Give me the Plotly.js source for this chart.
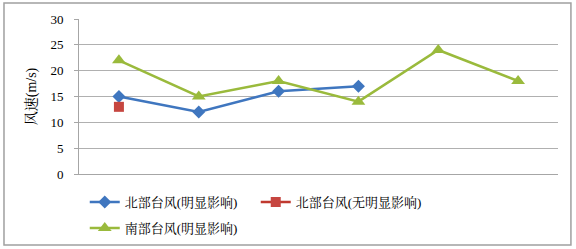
<!DOCTYPE html>
<html>
<head>
<meta charset="utf-8">
<script src="https://cdn.plot.ly/plotly-3.0.1.min.js"></script>
<style>html,body{margin:0;padding:0;background:#fff;} #chart{width:576px;height:249px;}</style>
</head>
<body>
<div id="chart"></div>
<script>
var categories = ["1", "2", "3", "4", "5", "6"];
var northObvious = [15, 12, 16, 17, null, null];
var northNone = [13, null, null, null, null, null];
var southObvious = [22, 15, 18, 14, 24, 18];
var seriesNames = ["北部台风(明显影响)", "北部台风(无明显影响)", "南部台风(明显影响)"];
var yTicks = [0, 5, 10, 15, 20, 25, 30];

var FONT = "'Times New Roman', 'Liberation Serif', 'Noto Serif CJK SC', 'Noto Sans CJK SC', serif";

var traces = [
  {x: categories, y: northObvious, name: seriesNames[0], type: "scatter", mode: "lines+markers", legend: "legend",
   line: {color: "#3f76bf", width: 2.5}, marker: {symbol: "diamond", size: 10, color: "#3f76bf"}},
  {x: categories, y: northNone, name: seriesNames[1], type: "scatter", mode: "lines+markers", legend: "legend",
   line: {color: "#c0392f", width: 2.5}, marker: {symbol: "square", size: 10, color: "#c64640"}},
  {x: categories, y: southObvious, name: seriesNames[2], type: "scatter", mode: "lines+markers", legend: "legend2",
   line: {color: "#9aba3c", width: 2.5}, marker: {symbol: "triangle-up", size: 12, color: "#9aba3c"}}
];

var legendBase = {orientation: "h", xanchor: "left", yanchor: "middle",
  entrywidth: 126, entrywidthmode: "pixels", itemwidth: 30,
  font: {family: FONT, size: 13, color: "#000"}, bgcolor: "rgba(0,0,0,0)"};

var layout = {
  width: 576, height: 249,
  margin: {l: 79, r: 18, t: 19, b: 75, autoexpand: false},
  paper_bgcolor: "#fff", plot_bgcolor: "#fff",
  font: {family: FONT, size: 13, color: "#000"},
  showlegend: true,
  legend: Object.assign({}, legendBase, {x: 0.012, y: -0.181}),
  legend2: Object.assign({}, legendBase, {x: 0.012, y: -0.348}),
  xaxis: {type: "category", range: [-0.5, 5.5], showticklabels: false, showgrid: false,
          showline: true, linecolor: "#a6a6a6", linewidth: 1, ticks: "", zeroline: false, fixedrange: true},
  yaxis: {range: [0, 30], tickvals: yTicks, ticktext: yTicks.map(String), showgrid: true,
          gridcolor: "#b0b0b0", gridwidth: 1, showline: true, linecolor: "#a6a6a6", linewidth: 1,
          ticks: "outside", ticklen: 4, tickcolor: "#a6a6a6", ticklabelstandoff: 8, zeroline: false,
          tickfont: {family: FONT, size: 13, color: "#000"},
          title: {text: "风速(m/s)", standoff: 10, font: {family: FONT, size: 14, color: "#000"}}},
  shapes: [{type: "rect", xref: "paper", yref: "paper", x0: -0.1566, x1: 1.027, y0: -0.458, y1: 1.103,
            line: {color: "#a0a0a0", width: 1.5}, fillcolor: "rgba(0,0,0,0)", layer: "below"}]
};

Plotly.newPlot("chart", traces, layout, {displayModeBar: false, staticPlot: true});
</script>
</body>
</html>
